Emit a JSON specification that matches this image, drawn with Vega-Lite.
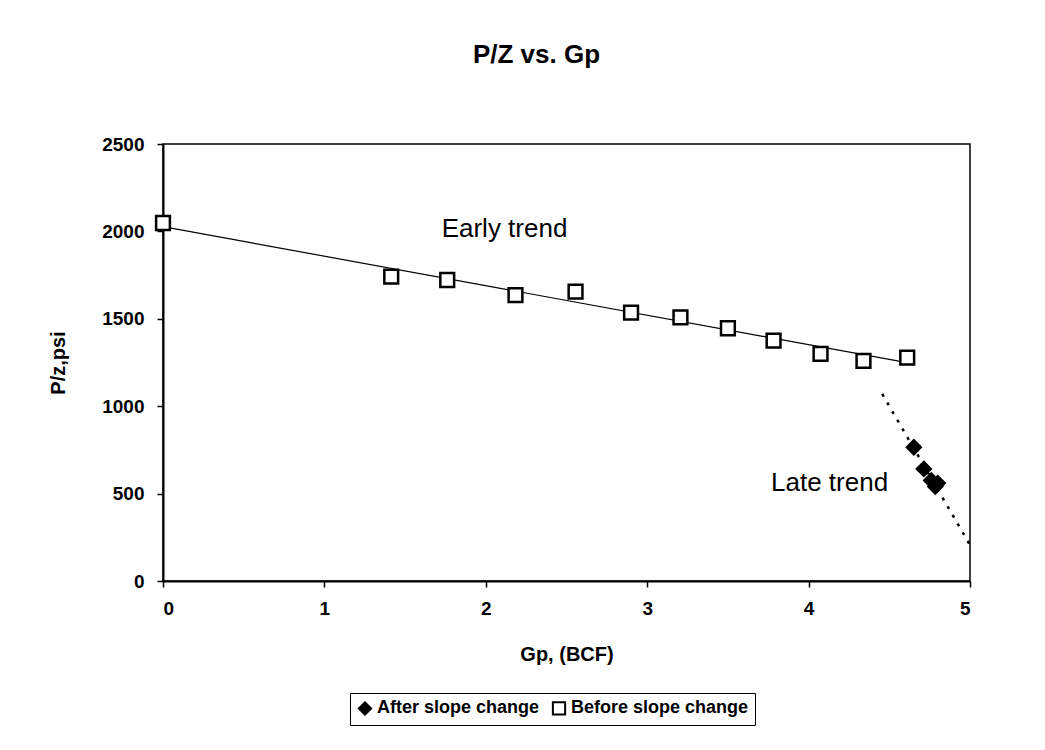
{
  "$schema": "https://vega.github.io/schema/vega-lite/v6.json",
  "width": 807,
  "height": 437,
  "autosize": {"type": "none"},
  "padding": {"left": 163, "top": 144, "right": 75, "bottom": 169},
  "background": "white",
  "config": {
    "font": "Liberation Sans",
    "view": {"stroke": "black", "strokeWidth": 1.5}
  },
  "title": {
    "text": "P/Z vs. Gp",
    "fontSize": 26,
    "fontWeight": "bold",
    "font": "Liberation Sans",
    "anchor": "middle",
    "offset": 67,
    "dx": -30,
    "color": "black"
  },
  "datasets": {
    "points": [
      {"gp": 0.0, "pz": 2048, "series": "Before slope change"},
      {"gp": 1.414, "pz": 1741, "series": "Before slope change"},
      {"gp": 1.761, "pz": 1722, "series": "Before slope change"},
      {"gp": 2.184, "pz": 1636, "series": "Before slope change"},
      {"gp": 2.556, "pz": 1655, "series": "Before slope change"},
      {"gp": 2.9, "pz": 1535, "series": "Before slope change"},
      {"gp": 3.206, "pz": 1508, "series": "Before slope change"},
      {"gp": 3.5, "pz": 1446, "series": "Before slope change"},
      {"gp": 3.783, "pz": 1375, "series": "Before slope change"},
      {"gp": 4.074, "pz": 1299, "series": "Before slope change"},
      {"gp": 4.34, "pz": 1259, "series": "Before slope change"},
      {"gp": 4.611, "pz": 1278, "series": "Before slope change"},
      {"gp": 4.652, "pz": 765, "series": "After slope change"},
      {"gp": 4.714, "pz": 641, "series": "After slope change"},
      {"gp": 4.76, "pz": 575, "series": "After slope change"},
      {"gp": 4.785, "pz": 540, "series": "After slope change"},
      {"gp": 4.8, "pz": 560, "series": "After slope change"}
    ],
    "lines": [
      {"gp": 0.0, "pz": 2027, "trend": "early"},
      {"gp": 4.61, "pz": 1249, "trend": "early"},
      {"gp": 4.456, "pz": 1070, "trend": "late"},
      {"gp": 5.0, "pz": 206, "trend": "late"}
    ],
    "labels": [
      {"gp": 2.116, "pz": 2014, "text": "Early trend"},
      {"gp": 4.13, "pz": 561, "text": "Late trend"}
    ]
  },
  "encoding": {
    "x": {
      "field": "gp",
      "type": "quantitative",
      "scale": {"domain": [0, 5], "nice": false, "zero": false},
      "axis": {
        "title": "Gp, (BCF)",
        "values": [0, 1, 2, 3, 4, 5],
        "format": "d",
        "grid": false,
        "domainColor": "black",
        "domainWidth": 2,
        "tickColor": "black",
        "tickSize": 6,
        "tickWidth": 1.5,
        "labelFontSize": 19,
        "labelFontWeight": "bold",
        "labelColor": "black",
        "labelPadding": 12,
        "titleFontSize": 20,
        "titleFontWeight": "bold",
        "titleColor": "black",
        "titlePadding": 26
      }
    },
    "y": {
      "field": "pz",
      "type": "quantitative",
      "scale": {"domain": [0, 2500], "nice": false},
      "axis": {
        "title": "P/z,psi",
        "values": [0, 500, 1000, 1500, 2000, 2500],
        "format": "d",
        "grid": false,
        "domainColor": "black",
        "domainWidth": 2,
        "tickColor": "black",
        "tickSize": 6,
        "tickWidth": 1.5,
        "labelFontSize": 19,
        "labelFontWeight": "bold",
        "labelColor": "black",
        "labelPadding": 13,
        "titleFontSize": 20,
        "titleFontWeight": "bold",
        "titleColor": "black",
        "titlePadding": 33
      }
    }
  },
  "layer": [
    {
      "data": {"name": "lines"},
      "transform": [{"filter": "datum.trend === 'early'"}],
      "mark": {"type": "line", "color": "black", "strokeWidth": 1.2},
      "encoding": {}
    },
    {
      "data": {"name": "lines"},
      "transform": [{"filter": "datum.trend === 'late'"}],
      "mark": {"type": "line", "color": "black", "strokeWidth": 2.5, "strokeDash": [3, 7]},
      "encoding": {}
    },
    {
      "data": {"name": "points"},
      "mark": {"type": "point", "size": 190, "stroke": "black", "strokeWidth": 2.5, "opacity": 1, "filled": false},
      "encoding": {
        "shape": {
          "field": "series",
          "type": "nominal",
          "scale": {"domain": ["After slope change", "Before slope change"], "range": ["diamond", "square"]},
          "legend": {
            "title": null,
            "orient": "none",
            "legendX": 187,
            "legendY": 549,
            "direction": "horizontal",
            "strokeColor": "black",
            "fillColor": "white",
            "padding": 6,
            "labelFontSize": 18,
            "labelFontWeight": "bold",
            "labelColor": "black",
            "labelLimit": 400,
            "symbolSize": 150,
            "symbolStrokeWidth": 2,
            "columnPadding": 8,
            "labelOffset": 3,
            "encode": {"symbols": {"update": {"stroke": {"value": "black"}, "strokeWidth": {"value": 2}}}}
          }
        },
        "fill": {
          "field": "series",
          "type": "nominal",
          "scale": {"domain": ["After slope change", "Before slope change"], "range": ["black", "white"]},
          "legend": {
            "title": null,
            "orient": "none",
            "legendX": 187,
            "legendY": 549,
            "direction": "horizontal",
            "strokeColor": "black",
            "fillColor": "white",
            "padding": 6,
            "labelFontSize": 18,
            "labelFontWeight": "bold",
            "labelColor": "black",
            "labelLimit": 400,
            "symbolSize": 150,
            "symbolStrokeWidth": 2,
            "columnPadding": 8,
            "labelOffset": 3,
            "encode": {"symbols": {"update": {"stroke": {"value": "black"}, "strokeWidth": {"value": 2}}}}
          }
        }
      }
    },
    {
      "data": {"name": "labels"},
      "mark": {"type": "text", "fontSize": 26, "color": "black", "font": "Liberation Sans"},
      "encoding": {"text": {"field": "text", "type": "nominal"}}
    }
  ]
}
